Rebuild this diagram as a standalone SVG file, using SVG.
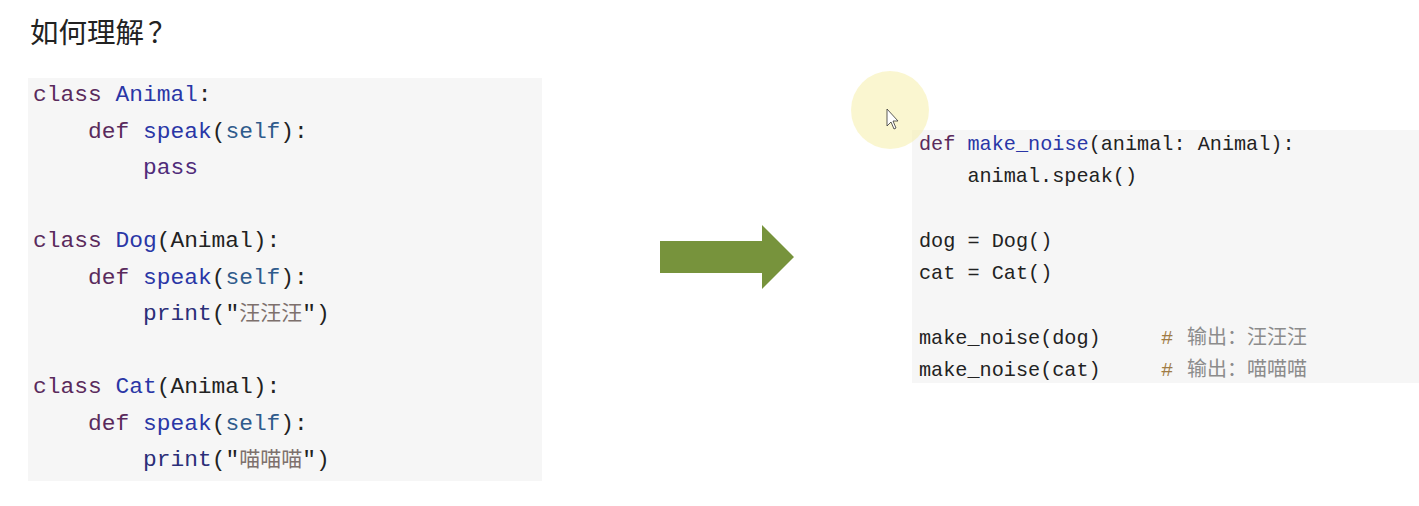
<svg xmlns="http://www.w3.org/2000/svg" width="1419" height="506" viewBox="0 0 1419 506">
<style>
.code{font-family:"Liberation Mono","DejaVu Sans Mono",monospace;fill:#222;white-space:pre}
.l{font-size:22.9px}
.r{font-size:20.2px}
.kw{fill:#5a2a5c}
.nm{fill:#2a36a6}
.ps{fill:#4f2b7a}
.bi{fill:#2b2e78}
.sf{fill:#2f5b8c}
.cj{font-family:"Noto Sans CJK SC",sans-serif;fill:#7d706c;font-size:21px}
.cm{font-family:"Noto Sans CJK SC",sans-serif;fill:#8c8c8c;font-size:20px}
.hs{fill:#a07c45}
.box{fill:#f6f6f6}
</style>
<rect width="1419" height="506" fill="#ffffff"/>
<g id="title">
<text x="30" y="43" font-family="'Noto Sans CJK SC',sans-serif" font-size="28.5" fill="#222">如何理解<tspan dx="4">？</tspan></text>
</g>
<g id="left-code">
<rect class="box" x="28" y="78" width="514" height="403"/>
<text class="code l" x="33" y="101"><tspan class="kw">class</tspan> <tspan class="nm">Animal</tspan>:</text>
<text class="code l" x="88" y="137.5"><tspan class="kw">def</tspan> <tspan class="nm">speak</tspan>(<tspan class="sf">self</tspan>):</text>
<text class="code l" x="143" y="174"><tspan class="ps">pass</tspan></text>
<text class="code l" x="33" y="247"><tspan class="kw">class</tspan> <tspan class="nm">Dog</tspan>(Animal):</text>
<text class="code l" x="88" y="283.5"><tspan class="kw">def</tspan> <tspan class="nm">speak</tspan>(<tspan class="sf">self</tspan>):</text>
<text class="code l" x="143" y="320"><tspan class="bi">print</tspan>("<tspan class="cj">汪汪汪</tspan>")</text>
<text class="code l" x="33" y="393"><tspan class="kw">class</tspan> <tspan class="nm">Cat</tspan>(Animal):</text>
<text class="code l" x="88" y="429.5"><tspan class="kw">def</tspan> <tspan class="nm">speak</tspan>(<tspan class="sf">self</tspan>):</text>
<text class="code l" x="143" y="466"><tspan class="bi">print</tspan>("<tspan class="cj">喵喵喵</tspan>")</text>
</g>
<g id="connectors">
<path d="M660 241 H762 V225 L794 257 L762 289 V273 H660 Z" fill="#77933c"/>
</g>
<g id="right-code">
<rect class="box" x="912" y="130" width="507" height="253"/>
<text class="code r" x="919" y="150"><tspan class="kw">def</tspan> <tspan class="nm">make_noise</tspan>(animal: Animal):</text>
<text class="code r" x="967.4" y="182.3">animal.speak()</text>
<text class="code r" x="919" y="247">dog = Dog()</text>
<text class="code r" x="919" y="279.2">cat = Cat()</text>
<text class="code r" x="919" y="343.8">make_noise(dog)</text>
<text class="code r hs" x="1161" y="343.8">#</text>
<text class="cm" x="1187" y="343.8">输出：汪汪汪</text>
<text class="code r" x="919" y="376">make_noise(cat)</text>
<text class="code r hs" x="1161" y="376">#</text>
<text class="cm" x="1187" y="376">输出：喵喵喵</text>
</g>
<g id="cursor">
<circle cx="890" cy="110" r="39" fill="#f5eeaa" opacity="0.55"/>
<path d="M887 109 L887 126 L891 122 L894 129 L896 128 L893 121 L898 121 Z" fill="#ffffff" stroke="#333" stroke-width="0.8"/>
</g>
</svg>
